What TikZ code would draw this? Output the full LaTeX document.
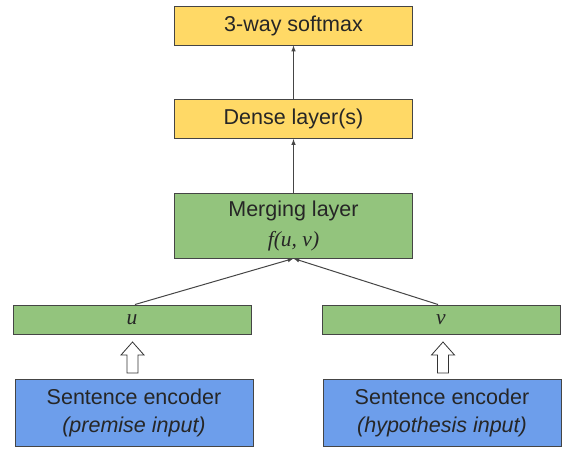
\documentclass[tikz,border=0pt]{standalone}
\usepackage{fontspec}
\setmainfont{Liberation Sans}
\newfontfamily\serifface{Liberation Serif}
\definecolor{softyellow}{HTML}{FFD966}
\definecolor{softgreen}{HTML}{93C47D}
\definecolor{softblue}{HTML}{6D9EEB}
\definecolor{edgegray}{HTML}{454545}
\tikzset{
  layer/.style = {draw=edgegray, line width=1pt, inner sep=0pt, minimum width=238pt,
    align=center, text=black!85, font=\fontsize{21.5}{28}\selectfont},
  yellowlayer/.style = {layer, fill=softyellow, minimum height=39pt},
  greenlayer/.style = {layer, fill=softgreen},
  bluelayer/.style = {layer, fill=softblue, minimum height=67pt},
  hollow/.style = {draw=black!80, fill=white, line width=0.8pt, line join=miter},
  vecname/.style = {font=\fontsize{21.5}{28}\selectfont\serifface\itshape},
  link/.style = {->, line width=1pt, edgegray}
}
\tikzset{>=latex}

\begin{document}
\begin{tikzpicture}[x=1pt,y=-1pt]
  \useasboundingbox (0,0) rectangle (563,448);
  % output side
  \node (soft) at (293.5,25.5) [yellowlayer] {3-way softmax};
  \node (dense) at (293.5,119) [yellowlayer] {Dense layer(s)};
  \node (merge) at (293.5,225.5) [greenlayer, minimum height=65pt]
    {Merging layer\\[2pt]{\serifface\itshape f(u, v)}};
  % sentence vectors
  \node (u) at (132,319.5) [greenlayer, minimum height=29pt, vecname] {u};
  \node (v) at (441,319.5) [greenlayer, minimum height=29pt, vecname] {v};
  % encoders
  \node (encp) at (134,412.5) [bluelayer] {Sentence encoder\\\textit{(premise input)}};
  \node (ench) at (442,412.5) [bluelayer] {Sentence encoder\\\textit{(hypothesis input)}};
  % hollow arrows
  \foreach \x/\name in {132.5/up1, 443/up2} {
    \coordinate (\name) at (\x,373);
    \draw[hollow] (\name) ++(-5.5,0) -- ++(0,-18) -- ++(-6,0) -- ++(11.5,-13)
      -- ++(11.5,13) -- ++(-6,0) -- ++(0,18) -- cycle;
  }
  % connectors
  \draw[link] (u.north) ++(3,0) coordinate (ut) -- (merge.south);
  \draw[link] (v.north) ++(-3,0) coordinate (vt) -- (merge.south);
  \draw[link] (merge) -- (dense);
  \draw[link] (dense) -- (soft);
\end{tikzpicture}
\end{document}
